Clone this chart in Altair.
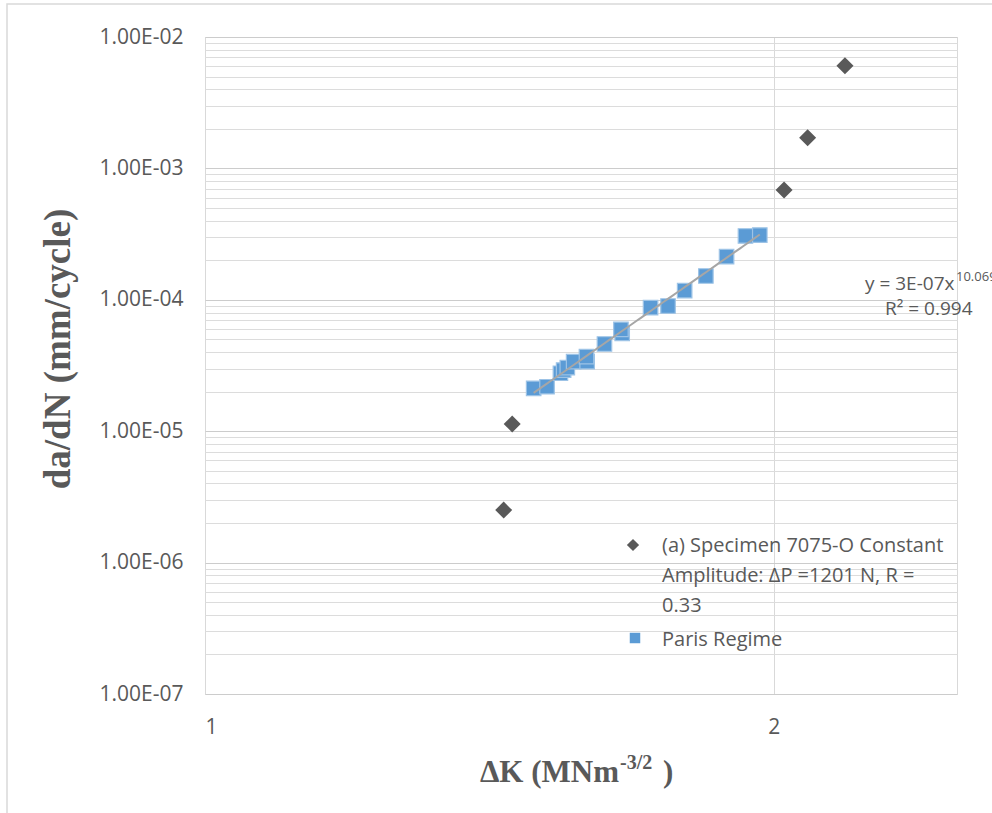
import altair as alt
import pandas as pd

# ---- data ----
spec_dk = [1.439, 1.454, 2.025, 2.084, 2.181]
spec_dadn = [2.51e-6, 1.135e-5, 6.85e-4, 1.71e-3, 6.05e-3]

paris_dk = [1.4925, 1.517, 1.542, 1.548, 1.555, 1.567, 1.593, 1.5917, 1.627,
            1.6625, 1.660, 1.721, 1.758, 1.794, 1.841, 1.888, 1.932, 1.966]
paris_dadn = [2.12e-5, 2.18e-5, 2.76e-5, 2.92e-5, 3.05e-5, 3.38e-5, 3.38e-5, 3.69e-5, 4.61e-5,
              5.56e-5, 5.96e-5, 8.71e-5, 8.97e-5, 1.173e-4, 1.518e-4, 2.128e-4, 3.06e-4, 3.11e-4]

y_tick_values = [1e-7, 1e-6, 1e-5, 1e-4, 1e-3, 1e-2]
y_tick_labels = ["1.00E-07", "1.00E-06", "1.00E-05", "1.00E-04", "1.00E-03", "1.00E-02"]
x_tick_values = [1, 2]

legend_labels = ["(a) Specimen 7075-O Constant\nAmplitude: ΔP =1201 N, R =\n0.33", "Paris Regime"]
equation_text = "y = 3E-07x"
equation_exp = "10.069"
r2_text = "R² = 0.994"
x_title_main = "ΔK (MNm"
x_title_sup = "-3/2"
x_title_end = ")"
y_title = "da/dN (mm/cycle)"

GREY = "#595959"
BLUE = "#5B9BD5"
SANS = "Open Sans"
SERIF = "Liberation Serif"

spec_df = pd.DataFrame({"dk": spec_dk, "dadn": spec_dadn})
paris_df = pd.DataFrame({"dk": paris_dk, "dadn": paris_dadn})
one = pd.DataFrame({"k": [0]})

# minor + major grid values
grid_vals = []
for e in range(-7, -2):
    for m in range(1, 10):
        grid_vals.append(m * 10.0 ** e)
grid_vals.append(1e-2)

label_expr = "".join(
    f"abs(datum.value - {v}) < {v * 1e-6} ? '{l}' : " for v, l in zip(y_tick_values, y_tick_labels)
) + "''"
major_test = "abs(log(datum.value)/LN10 - round(log(datum.value)/LN10)) < 0.001"

xs = alt.Scale(type="log", domain=[1, 2.5], nice=False)
ys = alt.Scale(type="log", domain=[1e-7, 1e-2], nice=False)

x_enc = alt.X("dk:Q", scale=xs, axis=alt.Axis(
    values=x_tick_values, title=None, grid=True, gridColor="#d9d9d9", domain=False,
    ticks=False, labelFont=SANS, labelFontSize=21, labelColor=GREY, labelPadding=22,
    format="~g"))
y_enc = alt.Y("dadn:Q", scale=ys, axis=alt.Axis(
    values=grid_vals, title=None, grid=True,
    gridColor={"condition": {"test": major_test, "value": "#cccccc"}, "value": "#dcdcdc"},
    domain=False, ticks=False, labelFont=SANS, labelFontSize=21, labelColor=GREY,
    labelPadding=22, labelExpr=label_expr, labelOverlap=False))

frame = alt.Chart(one).mark_rect(filled=False, stroke="#d9d9d9", strokeWidth=1.5).encode(
    x=alt.value(-198), x2=alt.value(900), y=alt.value(-33), y2=alt.value(900))

diamonds = alt.Chart(spec_df).mark_point(shape="diamond", filled=True, size=290,
                                         color=GREY, opacity=1).encode(x=x_enc, y=y_enc)

squares = alt.Chart(paris_df).mark_point(shape="square", filled=True, size=210, fill=BLUE,
                                         stroke="#9DC3E6", strokeWidth=1.2, opacity=1).encode(
    x=alt.X("dk:Q", scale=xs), y=alt.Y("dadn:Q", scale=ys))

trend = alt.Chart(paris_df).transform_regression("dk", "dadn", method="pow").mark_line(
    color="#A6A6A6", strokeWidth=2).encode(x=alt.X("dk:Q", scale=xs), y=alt.Y("dadn:Q", scale=ys))

def txt(text, x, y, size, font=SANS, weight="normal", align="left", baseline="alphabetic",
        angle=0, line_height=None):
    kw = dict(text=text, font=font, fontSize=size, fontWeight=weight, color=GREY,
              align=align, baseline=baseline, angle=angle)
    if line_height is not None:
        kw["lineBreak"] = "\n"
        kw["lineHeight"] = line_height
    return alt.Chart(one).mark_text(**kw).encode(x=alt.value(x), y=alt.value(y))

eq1 = txt(equation_text, 660, 253, 19)
eq2 = txt(equation_exp, 751, 244, 13)
eq3 = txt(r2_text, 680, 278, 19)

leg_sym1 = alt.Chart(one).mark_point(shape="diamond", filled=True, size=150, color=GREY,
                                     opacity=1).encode(x=alt.value(428), y=alt.value(508))
leg_sym2 = alt.Chart(one).mark_point(shape="square", filled=True, size=110, color=BLUE,
                                     opacity=1).encode(x=alt.value(430), y=alt.value(601))
leg_t1 = txt(legend_labels[0], 457, 515, 20, line_height=30)
leg_t2 = txt(legend_labels[1], 457, 609, 20)

xt1 = txt(x_title_main, 414, 745, 31, font=SERIF, weight="bold", align="right")
xt2 = txt(x_title_sup, 415, 732, 20, font=SERIF, weight="bold")
xt3 = txt(x_title_end, 458, 745, 31, font=SERIF, weight="bold")
yt = txt(y_title, -146, 312, 37, font=SERIF, weight="bold", align="center",
         baseline="middle", angle=270)

chart = alt.layer(
    frame, diamonds, squares, trend, eq1, eq2, eq3,
    leg_sym1, leg_sym2, leg_t1, leg_t2, xt1, xt2, xt3, yt
).properties(
    width=752, height=657,
    autosize=alt.AutoSizeParams(type="none"),
    padding={"left": 205, "top": 37, "right": 35, "bottom": 119},
    background="white",
).configure_view(stroke="#d9d9d9", strokeWidth=1)

chart.save("out.html", embed_options={"renderer": "svg", "actions": False})
